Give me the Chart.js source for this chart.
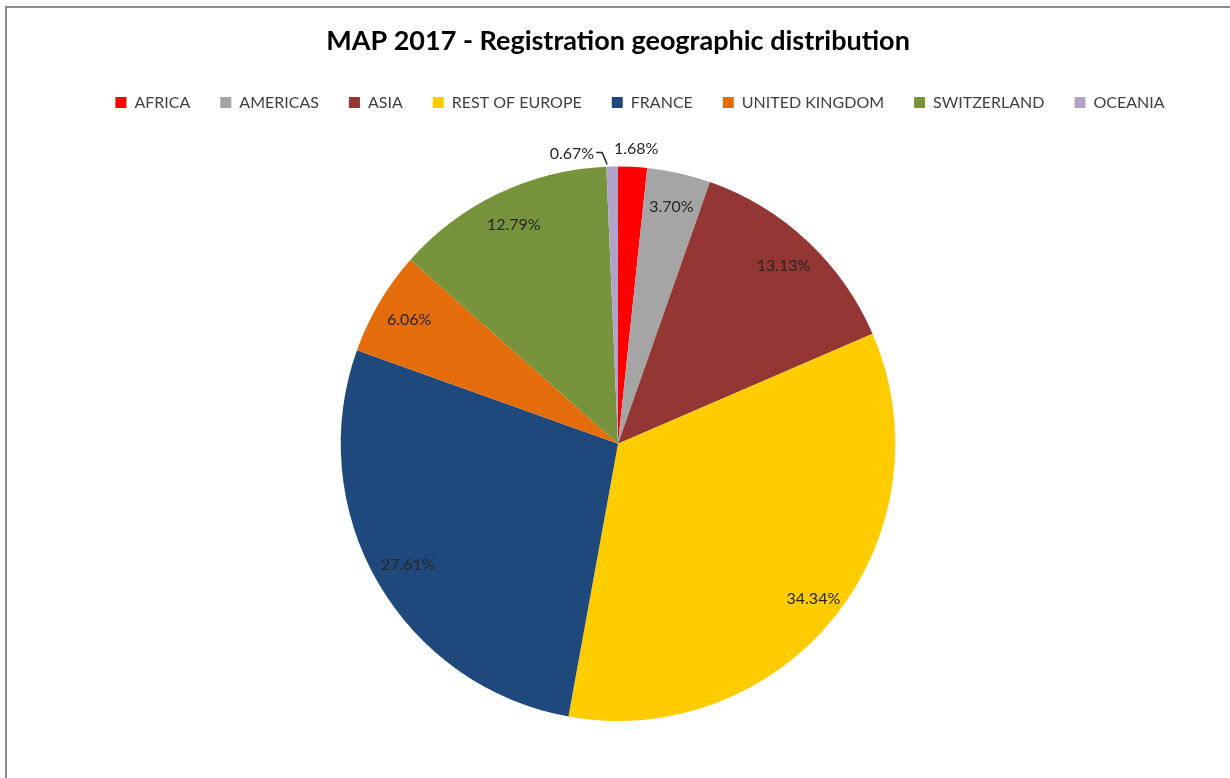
<!DOCTYPE html>
<html>
<head>
<meta charset="utf-8">
<script src="https://cdn.jsdelivr.net/npm/chart.js@4.4.1/dist/chart.umd.min.js"></script>
<style>
html,body{margin:0;padding:0;background:#fff;}
#wrap{width:1230px;height:778px;position:relative;}
</style>
</head>
<body>
<div id="wrap"><canvas id="c" width="1230" height="778"></canvas></div>
<script>
const categories = ["AFRICA","AMERICAS","ASIA","REST OF EUROPE","FRANCE","UNITED KINGDOM","SWITZERLAND","OCEANIA"];
const shares = [1.68, 3.70, 13.13, 34.34, 27.61, 6.06, 12.79, 0.67];
const sliceColors = ["#FF0000","#A5A5A5","#943634","#FFCC00","#1F497D","#E46C0A","#77933C","#B3A2C7"];
const chartTitle = "MAP 2017 - Registration geographic distribution";
const FONT = "Lato, 'Open Sans', sans-serif";

const frame = {
  id: 'frame',
  beforeInit(chart) {
    const lg = chart.legend;
    if (lg && !lg._patched) {
      const origFit = lg.fit;
      lg.fit = function () { origFit.call(this); this.height += 46; };
      const origDraw = lg.draw;
      lg.draw = function () {
        const ctx = this.ctx;
        ctx.save();
        ctx.translate(22, 0);
        origDraw.apply(this, arguments);
        ctx.restore();
      };
      lg._patched = true;
    }
  },
  beforeDraw(chart) {
    const ctx = chart.ctx;
    ctx.save();
    ctx.fillStyle = '#fff';
    ctx.fillRect(0, 0, chart.width, chart.height);
    ctx.strokeStyle = '#8c8c8c';
    ctx.lineWidth = 2;
    ctx.beginPath();
    ctx.moveTo(6, chart.height);
    ctx.lineTo(6, 7);
    ctx.lineTo(chart.width, 7);
    ctx.stroke();
    ctx.restore();
  }
};

const labels = {
  id: 'pctLabels',
  afterDatasetsDraw(chart) {
    const ctx = chart.ctx;
    const meta = chart.getDatasetMeta(0);
    ctx.save();
    ctx.font = "16px " + FONT;
    ctx.fillStyle = '#262626';
    ctx.textBaseline = 'middle';
    meta.data.forEach((arc, i) => {
      const p = arc.getProps(['x','y','startAngle','endAngle','outerRadius'], true);
      const mid = (p.startAngle + p.endAngle) / 2;
      const txt = shares[i].toFixed(2) + '%';
      if (shares[i] >= 2) {
        const r = p.outerRadius * (shares[i] > 30 ? 0.9 : 0.875);
        ctx.textAlign = 'center';
        ctx.fillText(txt, p.x + Math.cos(mid) * r, p.y + Math.sin(mid) * r);
      } else if (i === 0) {
        ctx.textAlign = 'left';
        ctx.fillText(txt, p.x - 4, p.y - p.outerRadius - 18);
      } else {
        const ex = p.x + Math.cos(mid) * p.outerRadius;
        const ey = p.y + Math.sin(mid) * p.outerRadius;
        ctx.strokeStyle = '#262626';
        ctx.lineWidth = 1.5;
        ctx.beginPath();
        ctx.moveTo(ex - 5, ey - 2);
        ctx.lineTo(ex - 10, ey - 14);
        ctx.lineTo(ex - 16, ey - 14);
        ctx.stroke();
        ctx.textAlign = 'right';
        ctx.fillText(txt, ex - 18, ey - 13);
      }
    });
    ctx.restore();
  }
};

new Chart(document.getElementById('c'), {
  type: 'pie',
  data: {
    labels: categories,
    datasets: [{
      data: shares,
      backgroundColor: sliceColors,
      borderWidth: 0
    }]
  },
  options: {
    responsive: false,
    animation: false,
    layout: { padding: { left: 6, right: 0, top: 0, bottom: 57 } },
    plugins: {
      title: {
        display: true,
        text: chartTitle,
        color: '#000',
        font: { family: FONT, size: 27, weight: 'bold' },
        padding: { top: 25, bottom: 7 }
      },
      legend: {
        position: 'top',
        labels: {
          boxWidth: 11,
          boxHeight: 11,
          padding: 30,
          color: '#404040',
          font: { family: FONT, size: 16 }
        }
      },
      tooltip: { enabled: false }
    }
  },
  plugins: [frame, labels]
});
</script>
</body>
</html>
